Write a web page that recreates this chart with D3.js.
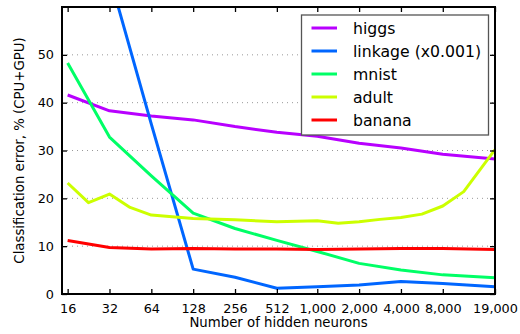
<!DOCTYPE html>
<html>
<head>
<meta charset="utf-8">
<script src="https://cdn.jsdelivr.net/npm/d3@7"></script>
<style>
  html, body { margin: 0; padding: 0; background: #fff; }
  svg { display: block; font-family: "DejaVu Sans", sans-serif; }
</style>
</head>
<body>
<svg id="chart" width="520" height="334"></svg>
<script>
// Hidden-layer sizes used as x tick positions
const xTicks = [16, 32, 64, 128, 256, 512, 1000, 2000, 4000, 8000, 19000];
const yTicks = [0, 10, 20, 30, 40, 50];

// Classification error (%) per dataset
const higgsN   = [16, 32, 64, 128, 256, 512, 1000, 2000, 4000, 8000, 19000];
const higgsErr = [41.6, 38.3, 37.2, 36.4, 35.0, 33.8, 33.0, 31.5, 30.5, 29.2, 28.2];

const linkageN   = [16, 32, 64, 128, 256, 512, 1000, 2000, 4000, 8000, 19000];
const linkageErr = [98, 66.5, 35.5, 5.2, 3.5, 1.2, 1.5, 1.9, 2.6, 2.2, 1.5];

const mnistN   = [16, 32, 64, 128, 256, 512, 1000, 2000, 4000, 8000, 19000];
const mnistErr = [48.3, 32.8, 24.7, 16.9, 13.7, 11.2, 8.9, 6.4, 5.0, 4.0, 3.4];

const adultN   = [16, 22.6, 32, 45, 64, 128, 256, 512, 1000, 1414, 2000, 2828, 4000, 5657, 8000, 11314, 19000];
const adultErr = [23.2, 19.1, 20.9, 18.1, 16.5, 15.8, 15.5, 15.1, 15.3, 14.8, 15.1, 15.6, 16.0, 16.7, 18.4, 21.4, 30.2];

const bananaN   = [16, 32, 64, 128, 256, 512, 1000, 2000, 4000, 8000, 19000];
const bananaErr = [11.2, 9.7, 9.4, 9.5, 9.4, 9.4, 9.3, 9.4, 9.5, 9.5, 9.3];

const seriesNames  = ["higgs", "linkage (x0.001)", "mnist", "adult", "banana"];
const seriesColors = ["#b800ff", "#0066ff", "#00ff66", "#ccff00", "#ff0000"];
const seriesN   = [higgsN, linkageN, mnistN, adultN, bananaN];
const seriesErr = [higgsErr, linkageErr, mnistErr, adultErr, bananaErr];

const svg = d3.select("#chart");
const plotLeft = 62, plotRight = 495, plotTop = 7, plotBottom = 294;

const x = d3.scaleLog().base(2).domain([14.57, 19000]).range([plotLeft, plotRight]);
const y = d3.scaleLinear().domain([0, 60]).range([plotBottom, plotTop]);

// dotted horizontal grid
svg.append("g").selectAll("line")
  .data(yTicks.filter(d => d > 0))
  .join("line")
  .attr("x1", plotLeft).attr("x2", plotRight)
  .attr("y1", d => y(d)).attr("y2", d => y(d))
  .attr("stroke", "#999").attr("stroke-width", 1)
  .attr("stroke-dasharray", "1,4");

// clip lines to the plotting area
svg.append("clipPath").attr("id", "plotClip")
  .append("rect").attr("x", plotLeft).attr("y", plotTop)
  .attr("width", plotRight - plotLeft).attr("height", plotBottom - plotTop);

const line = d3.line().x(d => x(d[0])).y(d => y(d[1]));

const lines = svg.append("g").attr("clip-path", "url(#plotClip)");
seriesNames.forEach((name, i) => {
  const pts = seriesN[i].map((n, j) => [n, seriesErr[i][j]]);
  lines.append("path")
    .datum(pts)
    .attr("d", line)
    .attr("fill", "none")
    .attr("stroke", seriesColors[i])
    .attr("stroke-width", 3)
    .attr("stroke-linejoin", "round");
});

// axes: inward ticks on all four sides
const tickLen = 5;
const styleTicks = g => g.selectAll("line").attr("stroke", "#000").attr("stroke-width", 1.3);
const styleLabels = g => g.selectAll("text")
  .attr("font-size", 12.8).attr("font-family", "DejaVu Sans").attr("fill", "#000");

svg.append("g").attr("transform", `translate(0,${plotBottom})`)
  .call(d3.axisBottom(x).tickValues(xTicks).tickFormat(d3.format(",")).tickSizeInner(-tickLen).tickSizeOuter(0).tickPadding(10))
  .call(g => g.select(".domain").remove())
  .call(styleLabels).call(styleTicks);

svg.append("g").attr("transform", `translate(0,${plotTop})`)
  .call(d3.axisTop(x).tickValues(xTicks).tickFormat("").tickSizeInner(-tickLen).tickSizeOuter(0))
  .call(g => g.select(".domain").remove())
  .call(styleTicks);

svg.append("g").attr("transform", `translate(${plotLeft},0)`)
  .call(d3.axisLeft(y).tickValues(yTicks).tickSizeInner(-tickLen).tickSizeOuter(0).tickPadding(8))
  .call(g => g.select(".domain").remove())
  .call(styleLabels).call(styleTicks);

svg.append("g").attr("transform", `translate(${plotRight},0)`)
  .call(d3.axisRight(y).tickValues(yTicks).tickFormat("").tickSizeInner(-tickLen).tickSizeOuter(0))
  .call(g => g.select(".domain").remove())
  .call(styleTicks);

// frame
svg.append("rect")
  .attr("x", plotLeft).attr("y", plotTop)
  .attr("width", plotRight - plotLeft).attr("height", plotBottom - plotTop)
  .attr("fill", "none").attr("stroke", "#000").attr("stroke-width", 2);

// axis titles
svg.append("text")
  .attr("x", (plotLeft + plotRight) / 2).attr("y", 327)
  .attr("text-anchor", "middle").attr("font-size", 13.3)
  .text("Number of hidden neurons");

svg.append("text")
  .attr("transform", `translate(24,${(plotTop + plotBottom) / 2}) rotate(-90)`)
  .attr("text-anchor", "middle").attr("font-size", 13.3)
  .text("Classification error, % (CPU+GPU)");

// legend
const legend = svg.append("g").attr("transform", "translate(301.5,15)");
legend.append("rect")
  .attr("width", 187).attr("height", 120)
  .attr("fill", "#fff").attr("stroke", "#555").attr("stroke-width", 1.3);

seriesNames.forEach((name, i) => {
  const ly = 13 + i * 23;
  legend.append("line")
    .attr("x1", 10).attr("x2", 35.5)
    .attr("y1", ly).attr("y2", ly)
    .attr("stroke", seriesColors[i]).attr("stroke-width", 3);
  legend.append("text")
    .attr("x", 51.5).attr("y", ly + 5.5)
    .attr("font-size", 15.7)
    .text(name);
});
</script>
</body>
</html>
